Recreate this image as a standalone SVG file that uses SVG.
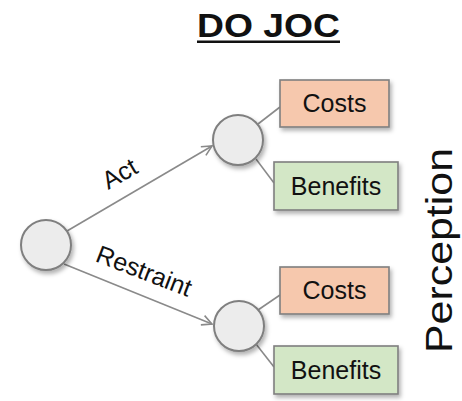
<svg xmlns="http://www.w3.org/2000/svg" width="462" height="401" viewBox="0 0 462 401">
<defs>
<style>
.t{font-family:"Liberation Sans",Arial,sans-serif;fill:#111}
.node circle{fill:#ececec;stroke:#7f7f7f;stroke-width:2}
.box{stroke:#7f7f7f;stroke-width:1.6}
.cost{fill:#f6c8ad}
.ben{fill:#d3e7c6}
.edge{stroke:#8a8a8a;stroke-width:1.6;fill:none}
</style>
<filter id="sh" x="-20%" y="-20%" width="150%" height="150%">
<feDropShadow dx="2" dy="3" stdDeviation="2" flood-color="#000" flood-opacity="0.3"/>
</filter>
<marker id="ar" viewBox="0 0 12 12" refX="11" refY="6" markerWidth="12" markerHeight="12" markerUnits="userSpaceOnUse" orient="auto">
<path d="M1,1 L11,6 L1,11" fill="none" stroke="#8a8a8a" stroke-width="1.6"/>
</marker>
</defs>
<rect width="462" height="401" fill="#fff"/>
<g id="title">
<text class="t" x="197" y="37" font-size="34" font-weight="bold" textLength="143" lengthAdjust="spacingAndGlyphs">DO JOC</text>
<rect x="197" y="40.5" width="143" height="2.5" fill="#111"/>
</g>
<g id="connectors">
<line class="edge" x1="67" y1="231" x2="212" y2="146" marker-end="url(#ar)"/>
<line class="edge" x1="64" y1="264" x2="212" y2="324" marker-end="url(#ar)"/>
<line class="edge" x1="258" y1="124" x2="280" y2="107"/>
<line class="edge" x1="256" y1="159" x2="274" y2="183"/>
<line class="edge" x1="258" y1="310" x2="280" y2="295"/>
<line class="edge" x1="256" y1="344" x2="274" y2="367"/>
<text class="t" font-size="25" text-anchor="middle" transform="translate(124,181) rotate(-30)">Act</text>
<text class="t" font-size="25" text-anchor="middle" transform="translate(141,279) rotate(21)">Restraint</text>
</g>
<g id="root" class="node"><circle cx="46" cy="245" r="25" filter="url(#sh)"/></g>
<g id="act" class="node"><circle cx="238" cy="140" r="25" filter="url(#sh)"/></g>
<g id="restraint" class="node"><circle cx="239" cy="326" r="25" filter="url(#sh)"/></g>
<g id="act-costs">
<rect class="box cost" x="280" y="80" width="109" height="47" filter="url(#sh)"/>
<text class="t" x="334.5" y="112" font-size="25" text-anchor="middle">Costs</text>
</g>
<g id="act-benefits">
<rect class="box ben" x="274" y="162" width="124" height="48" filter="url(#sh)"/>
<text class="t" x="336" y="195" font-size="25" text-anchor="middle">Benefits</text>
</g>
<g id="restraint-costs">
<rect class="box cost" x="280" y="267" width="109" height="47" filter="url(#sh)"/>
<text class="t" x="334.5" y="299" font-size="25" text-anchor="middle">Costs</text>
</g>
<g id="restraint-benefits">
<rect class="box ben" x="274" y="346" width="124" height="48" filter="url(#sh)"/>
<text class="t" x="336" y="379" font-size="25" text-anchor="middle">Benefits</text>
</g>
<g id="perception">
<text class="t" font-size="37" transform="translate(452,353) rotate(-90)" textLength="205" lengthAdjust="spacingAndGlyphs">Perception</text>
</g>
</svg>
